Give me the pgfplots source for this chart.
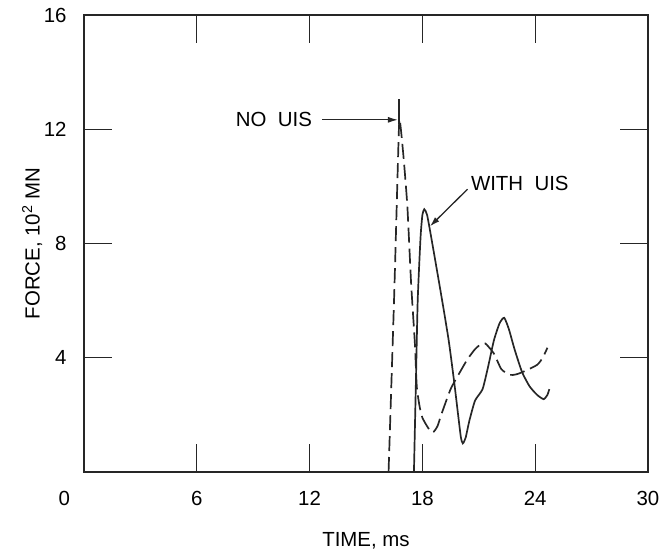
\documentclass[border=0pt]{standalone}
\usepackage{fontspec}
\setmainfont{Liberation Sans}
\usepackage{pgfplots}
\pgfplotsset{compat=1.18}
\usetikzlibrary{arrows.meta}

\newcommand\lab{\fontsize{20.5}{24}\selectfont}

\begin{document}
\begin{tikzpicture}
\begin{axis}[
	scale only axis,
	width=564bp, height=457bp,
	xmin=0, xmax=30, ymin=0, ymax=16,
	xtick={0,6,12,18,24,30},
	xticklabels={{\makebox[0pt][r]{0\hspace{14bp}}},6,12,18,24,30},
	ytick={4,8,12,16},
	yticklabels={4,8,12,16},
	tick pos=both,
	tick align=inside,
	major tick length=28bp,
	every tick/.style={black!85, line width=1.4pt},
	axis line style={line width=1.5pt, black!85},
	tick label style={font=\lab},
	xticklabel style={yshift=-16bp},
	yticklabel style={xshift=-14bp},
	xlabel={TIME, ms},
	ylabel={FORCE, 10\textsuperscript{2}\ MN},
	label style={font=\lab},
	x label style={at={(axis description cs:0.5,-0.151)},anchor=center},
	y label style={at={(axis description cs:-0.092,0.5)},anchor=center},
	clip=false,
]
% NO UIS (dashed)
\addplot[black!85, line width=1.7pt, dash pattern=on 15bp off 6bp, smooth, tension=0.35]
	coordinates {
		(16.2,0) (16.5,6.2) (16.75,12.0) (16.82,12.2) (17.0,11.0)
		(17.2,9.3) (17.4,6.6) (17.6,4.5) (17.7,3.0) (17.85,2.3)
		(18.0,1.9) (18.3,1.55) (18.55,1.38) (18.8,1.6) (19.0,2.0)
		(19.5,2.9) (20.0,3.5) (20.4,3.95) (20.8,4.3) (21.1,4.47)
		(21.35,4.5) (21.8,4.15) (22.2,3.6) (22.65,3.4) (23.0,3.42)
		(23.4,3.52) (24.1,3.75) (24.4,4.0) (24.65,4.35)
	};
% WITH UIS (solid)
\addplot[black!85, line width=1.7pt, smooth, tension=0.35]
	coordinates {
		(17.55,0) (17.65,3.0) (17.75,6.0) (17.9,8.2) (18.0,9.0)
		(18.1,9.2) (18.25,9.0) (18.5,8.1) (19.0,6.2) (19.4,4.6)
		(19.7,3.1) (19.9,2.0) (20.05,1.2) (20.15,1.0) (20.3,1.2)
		(20.5,1.8) (20.8,2.5) (21.2,2.9) (21.5,3.7) (21.8,4.6)
		(22.1,5.2) (22.35,5.4) (22.6,5.0) (22.9,4.3) (23.3,3.5)
		(23.7,3.0) (24.1,2.7) (24.45,2.55) (24.65,2.7) (24.75,2.9)
	};
% annotations
\draw[line width=1.5pt, black!85] (axis cs:16.75,12.2) -- (axis cs:16.75,13.05);
\draw[line width=1.3pt, black!85, -{Latex[length=10bp,width=6bp]}]
	(axis cs:12.66,12.33) -- (axis cs:16.7,12.33);
\node[font=\lab,anchor=center] at (axis cs:10.1,12.33) {NO\ \ UIS};
\draw[line width=1.3pt, black!85, -{Latex[length=10bp,width=6bp]}]
	(axis cs:20.4,9.9) -- (axis cs:18.4,8.6);
\node[font=\lab,anchor=west] at (axis cs:20.4,10.1) {WITH\ \ UIS};
\coordinate (sw) at (rel axis cs:0,0);
\end{axis}
\pgfresetboundingbox
\path ([shift={(-84bp,-85bp)}]sw) rectangle ++(667bp,557bp);
\end{tikzpicture}
\end{document}
